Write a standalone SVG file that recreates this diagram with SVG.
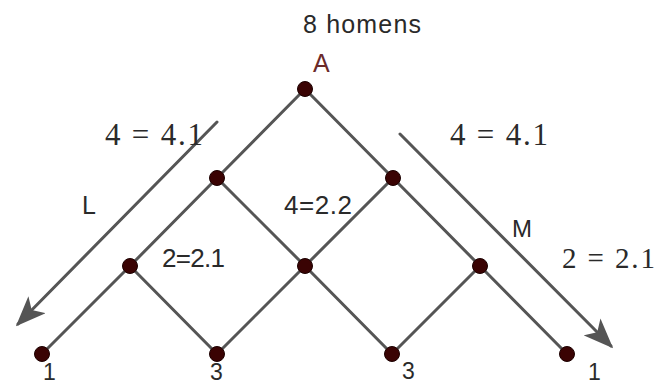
<svg xmlns="http://www.w3.org/2000/svg" width="662" height="385" viewBox="0 0 662 385">
<style>
.e{stroke:#555;stroke-width:3;fill:none;stroke-linecap:round}
.n{fill:#3a0303;stroke:#1c0000;stroke-width:1}
.s{font-family:"Liberation Sans",Arial,sans-serif;fill:#2a2a2a}
.m{font-family:"Liberation Serif","Times New Roman",serif;fill:#2a2a2a}
</style>
<defs>
<marker id="ah" markerWidth="10" markerHeight="8" refX="9" refY="4" orient="auto" markerUnits="strokeWidth">
<path d="M0,0 L10,4 L0,8 L2.5,4 Z" fill="#555"/>
</marker>
</defs>
<rect width="662" height="385" fill="#fff"/>
<g id="connectors">
<line class="e" x1="305" y1="89" x2="217" y2="178"/>
<line class="e" x1="305" y1="89" x2="393" y2="178"/>
<line class="e" x1="217" y1="178" x2="130" y2="266"/>
<line class="e" x1="217" y1="178" x2="305" y2="266"/>
<line class="e" x1="393" y1="178" x2="305" y2="266"/>
<line class="e" x1="393" y1="178" x2="480" y2="266"/>
<line class="e" x1="130" y1="266" x2="42" y2="354"/>
<line class="e" x1="130" y1="266" x2="217" y2="354"/>
<line class="e" x1="305" y1="266" x2="217" y2="354"/>
<line class="e" x1="305" y1="266" x2="392" y2="354"/>
<line class="e" x1="480" y1="266" x2="392" y2="354"/>
<line class="e" x1="480" y1="266" x2="567" y2="354"/>
<line class="e" x1="217" y1="122" x2="18" y2="324" marker-end="url(#ah)"/>
<line class="e" x1="400" y1="134" x2="611" y2="346" marker-end="url(#ah)"/>
</g>
<g id="A"><circle class="n" cx="305" cy="89" r="7.5"/><text class="s" x="313" y="72" font-size="25" style="fill:#6b2a2a">A</text></g>
<g id="n1l"><circle class="n" cx="217" cy="178" r="7.5"/></g>
<g id="n1r"><circle class="n" cx="393" cy="178" r="7.5"/></g>
<g id="n2l"><circle class="n" cx="130" cy="266" r="7.5"/></g>
<g id="n2m"><circle class="n" cx="305" cy="266" r="7.5"/></g>
<g id="n2r"><circle class="n" cx="480" cy="266" r="7.5"/></g>
<g id="n3a"><circle class="n" cx="42" cy="354" r="7.5"/><text class="s" x="43" y="380" font-size="23">1</text></g>
<g id="n3b"><circle class="n" cx="217" cy="354" r="7.5"/><text class="s" x="210" y="380" font-size="23">3</text></g>
<g id="n3c"><circle class="n" cx="392" cy="354" r="7.5"/><text class="s" x="402" y="379" font-size="23">3</text></g>
<g id="n3d"><circle class="n" cx="567" cy="354" r="7.5"/><text class="s" x="588" y="380" font-size="23">1</text></g>
<g id="labels">
<text class="s" x="303" y="33" font-size="25" textLength="118">8 homens</text>
<text class="m" x="105" y="145" font-size="31" textLength="98">4 = 4.1</text>
<text class="m" x="450" y="145" font-size="31" textLength="98">4 = 4.1</text>
<text class="s" x="82" y="214" font-size="25">L</text>
<text class="s" x="284" y="214" font-size="26" textLength="68">4=2.2</text>
<text class="s" x="162" y="267" font-size="26" textLength="63">2=2.1</text>
<text class="s" x="512" y="237" font-size="24">M</text>
<text class="m" x="562" y="268" font-size="29" textLength="93">2 = 2.1</text>
</g>
</svg>
